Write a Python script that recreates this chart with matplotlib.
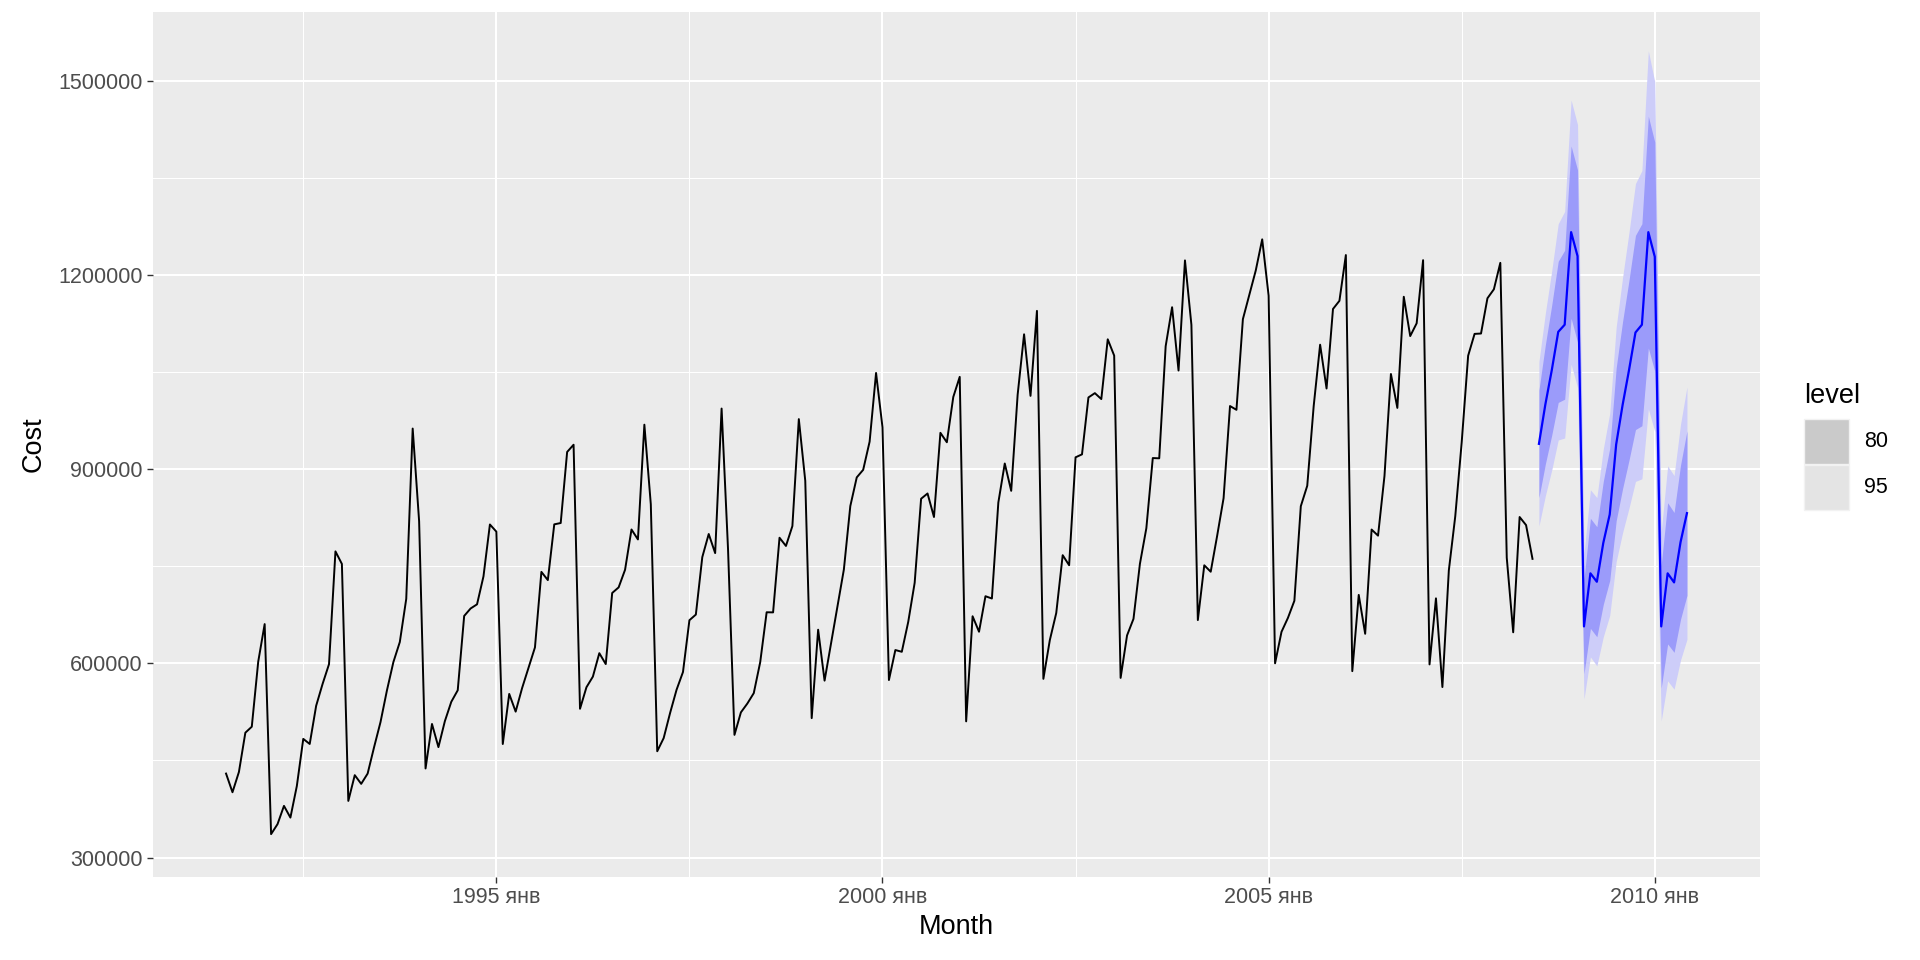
import matplotlib
matplotlib.use("Agg")
import matplotlib.pyplot as plt
from matplotlib.patches import Rectangle
import numpy as np

# ---------------- data ----------------
start_year, start_month = 1991, 7  # July 1991
cost = [
    429766, 400908, 432199, 492894, 502124, 602640, 660601, 336220, 351643, 379841, 361749, 410537,
    483309, 475479, 534376, 568175, 598746, 772929, 753546, 387488, 427284, 413876, 429715, 470420,
    509233, 558219, 601887, 632910, 699617, 962622, 819526, 437625, 506370, 470611, 510645, 540584,
    558412, 673191, 684723, 691156, 734301, 814467, 803414, 475404, 552767, 525408, 561724, 593094,
    624612, 741263, 728577, 814671, 816733, 926477, 937643, 529801, 563059, 579492, 615700, 598860,
    708674, 717300, 744474, 806739, 791356, 968601, 845754, 464211, 484565, 523441, 559121, 586593,
    666611, 675300, 764007, 799765, 770248, 993515, 776315, 489502, 524286, 537900, 553996, 601863,
    678883, 678701, 794000, 781301, 812009, 977196, 882012, 515372, 651939, 573254, 630630, 688130,
    744981, 842912, 887171, 898892, 942401, 1048477, 964573, 574226, 620553, 617839, 664020, 724430,
    854205, 862342, 825988, 956039, 941464, 1011389, 1042485, 510397, 672724, 648809, 703676, 700111,
    848317, 908656, 866420, 1014895, 1108189, 1013123, 1144381, 576083, 635829, 677779, 767051, 751551,
    918213, 922772, 1010658, 1017338, 1008164, 1100462, 1075346, 577507, 643117, 668670, 753697, 808776,
    917064, 916657, 1089803, 1150062, 1052270, 1222324, 1122803, 666836, 751430, 741486, 796963, 855124,
    997398, 991571, 1131608, 1168894, 1206790, 1254885, 1167744, 600056, 648644, 670224, 696618, 842699,
    874282, 997307, 1092177, 1024481, 1147316, 1159934, 1230607, 587946, 705693, 645665, 806652, 797222,
    889371, 1046935, 994545, 1166162, 1105465, 1125204, 1222700, 598344, 700361, 563390, 743527, 827251,
    941473, 1075107, 1108846, 1109407, 1163861, 1177724, 1218599, 763164, 647956, 826006, 813526, 761361,
]

# forecast (Jul 2008 - Jun 2010)
fc_mean = [939000, 1000000, 1053000, 1112000, 1123000, 1266000, 1229000, 657000, 739000, 726000, 786000, 830000,
           938000, 999000, 1053000, 1111000, 1123000, 1266000, 1228000, 657000, 739000, 725000, 787000, 832000]
fc_lo95 = [812000, 859000, 899000, 945000, 948000, 1062000, 1026000, 545000, 610000, 596000, 641000, 674000,
           757000, 802000, 840000, 881000, 885000, 993000, 958000, 511000, 573000, 560000, 605000, 637000]
fc_hi95 = [1066000, 1141000, 1207000, 1279000, 1298000, 1470000, 1432000, 769000, 868000, 856000, 931000, 986000,
           1119000, 1196000, 1266000, 1341000, 1361000, 1546000, 1498000, 803000, 905000, 890000, 969000, 1027000]
fc_lo80 = [856000, 908000, 953000, 1003000, 1008000, 1133000, 1096000, 584000, 654000, 641000, 691000, 728000,
           820000, 870000, 914000, 961000, 967000, 1087000, 1051000, 562000, 630000, 617000, 668000, 705000]
fc_hi80 = [1022000, 1092000, 1154000, 1221000, 1238000, 1399000, 1362000, 730000, 824000, 811000, 881000, 932000,
           1056000, 1128000, 1192000, 1261000, 1279000, 1445000, 1405000, 752000, 848000, 833000, 906000, 959000]

x_tick_years = [1995, 2000, 2005, 2010]
x_tick_labels = ["1995 янв", "2000 янв", "2005 янв", "2010 янв"]
y_ticks = [300000, 600000, 900000, 1200000, 1500000]
levels = ["80", "95"]

# ---------------- positions ----------------
t0 = start_year + (start_month - 1) / 12
t_hist = t0 + np.arange(len(cost)) / 12
t_fc = t_hist[-1] + (np.arange(len(fc_mean)) + 1) / 12

W, H = 1920, 960
fig = plt.figure(figsize=(19.2, 9.6), dpi=100)
fig.patch.set_facecolor("white")
ax = fig.add_axes([153 / W, 1 - 877 / H, (1760 - 153) / W, (877 - 12) / H])
ax.set_facecolor("#EBEBEB")

light = "#CDCDF9"
dark = "#9B9BFA"
ax.fill_between(t_fc, fc_lo95, fc_hi95, color=light, lw=0, zorder=2)
ax.fill_between(t_fc, fc_lo80, fc_hi80, color=dark, lw=0, zorder=3)
ax.plot(t_hist, cost, color="black", lw=1.4, zorder=4)
ax.plot(t_fc, fc_mean, color="#0000FF", lw=1.6, zorder=5)

# limits (ggplot 5% expansion on x; y matched to reference panel)
xmin, xmax = t_hist[0], t_fc[-1]
xr = xmax - xmin
xlim = (xmin - 0.05 * xr, xmax + 0.05 * xr)
ylim = (270000, 1606000)

# grid
ax.set_xticks(x_tick_years)
ax.set_xticklabels(x_tick_labels)
ax.set_xticks([y - 2.5 for y in x_tick_years] + [x_tick_years[-1] + 2.5], minor=True)
ax.set_yticks(y_ticks)
ax.set_yticklabels([str(v) for v in y_ticks])
ax.set_yticks([v + 150000 for v in y_ticks] + [y_ticks[0] - 150000], minor=True)
ax.set_xlim(*xlim)
ax.set_ylim(*ylim)
ax.grid(which="major", color="white", lw=1.5, zorder=1)
ax.grid(which="minor", color="white", lw=0.75, zorder=1)
ax.set_axisbelow(True)
for s in ax.spines.values():
    s.set_visible(False)
ax.tick_params(which="major", length=4.5, width=1.0, color="#333333",
               labelsize=15.5, labelcolor="#4D4D4D", pad=3)
ax.tick_params(which="minor", length=0)
for lab in ax.get_xticklabels() + ax.get_yticklabels():
    lab.set_fontfamily("Liberation Sans")

ax.set_xlabel("Month", fontsize=19.5, family="Liberation Sans", labelpad=4)
ax.set_ylabel("Cost", fontsize=19.5, family="Liberation Sans", labelpad=8)

# legend (manual, ggplot style)
fig.text(1804 / W, 1 - 403 / H, "level", fontsize=19.5, family="Liberation Sans",
         ha="left", va="baseline")
key_cols = ["#CACACA", "#E4E4E4"]
key_tops = [419, 465]
for lab, col, top in zip(levels, key_cols, key_tops):
    fig.patches.append(Rectangle((1804 / W, 1 - (top + 45) / H), 45 / W, 45 / H,
                                 transform=fig.transFigure, facecolor=col,
                                 edgecolor="#F2F2F2", lw=1.0))
    fig.text(1864 / W, 1 - (top + 22.5) / H, lab, fontsize=15.5, family="Liberation Sans",
             ha="left", va="center")

fig.savefig("out.png", dpi=100)
